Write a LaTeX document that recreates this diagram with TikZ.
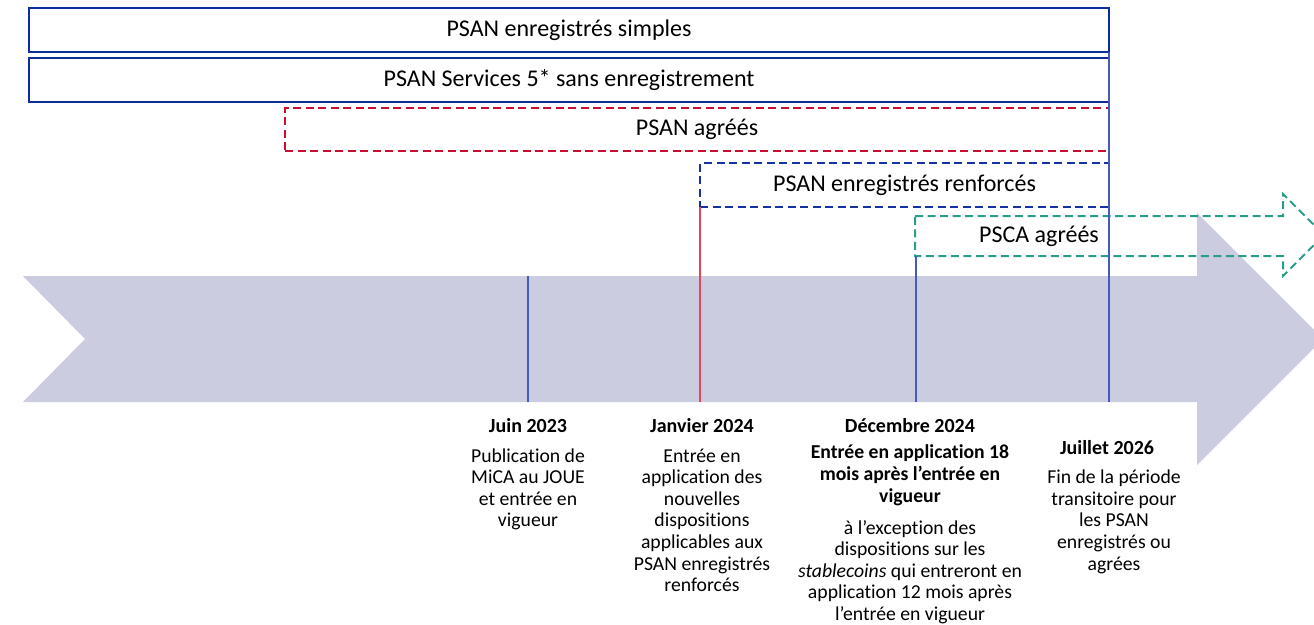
\documentclass[tikz,border=0pt]{standalone}
\usepackage{fontspec}
\setmainfont{Carlito}[Ligatures=NoCommon]
\definecolor{boxblue}{HTML}{0B2D9E}
\definecolor{dred}{HTML}{C8102E}
\definecolor{dblue}{HTML}{1532A0}
\definecolor{tealc}{HTML}{2A9D8A}
\definecolor{arrowgray}{HTML}{CBCCDF}
\definecolor{tickblue}{HTML}{4659BF}
\definecolor{tickred}{HTML}{E0475A}
\begin{document}
\begin{tikzpicture}[x=1pt,y=-1pt,
  bar/.style={draw=boxblue, line width=2pt, inner sep=0pt, minimum height=44pt,
    font=\fontsize{24}{28}\selectfont},
  redbar/.style={draw=dred, line width=2pt, dash pattern=on 8pt off 4.5pt, inner sep=0pt,
    minimum height=43pt, font=\fontsize{24}{28}\selectfont},
  bluebar/.style={draw=dblue, line width=2pt, dash pattern=on 8pt off 4.5pt, inner sep=0pt,
    minimum height=44pt, font=\fontsize{24}{28}\selectfont},
  lbl/.style={inner sep=0pt, font=\fontsize{24}{28}\selectfont},
  datet/.style={inner sep=0pt, anchor=base, align=center, font=\bfseries\fontsize{20}{21.7}\selectfont},
  boldt/.style={inner sep=0pt, anchor=base, align=center, font=\bfseries\fontsize{19.7}{21.6}\selectfont},
  desc/.style={inner sep=0pt, anchor=base, align=center, font=\fontsize{19.7}{21.6}\selectfont},
  tickb/.style={draw=tickblue, line width=1.2pt},
  tickr/.style={draw=tickred, line width=1.2pt}
]
\useasboundingbox (0,0) rectangle (1314,624);

% big timeline arrow
\fill[arrowgray] (23,276) -- (1197,276) -- (1197,213) -- (1323,339) -- (1197,465)
  -- (1197,402) -- (23,402) -- (85,339) -- cycle;

% bars
\node[bar, minimum width=1080pt] (b1) at (569,30) {PSAN enregistrés simples};
\node[bar, minimum width=1080pt] (b2) at (569,80) {PSAN Services 5* sans enregistrement};
\node[redbar, minimum width=824pt] (b3) at (697,129.5) {PSAN agréés};
\node[bluebar, minimum width=409pt] (b4) at (904.5,185) {PSAN enregistrés renforcés};

% PSCA dashed arrow
\draw[tealc, line width=2pt, dash pattern=on 8pt off 4.5pt]
  (915,216) -- (1283,216) -- (1283,194) -- (1324,235) -- (1283,276) -- (1283,256)
  -- (915,256) -- cycle;
\node[lbl] (b5) at (1039,236) {PSCA agréés};

% ticks
\coordinate (t1a) at (528,276); \coordinate (t1b) at (528,402);
\coordinate (t2a) at (700,207); \coordinate (t2b) at (700,402);
\coordinate (t3a) at (916,256); \coordinate (t3b) at (916,402);
\coordinate (t4a) at (1109,52); \coordinate (t4b) at (1109,402);
\draw[tickb] (t1a) -- (t1b);
\draw[tickr] (t2a) -- (t2b);
\draw[tickb] (t3a) -- (t3b);
\draw[tickb] (t4a) -- (t4b);

% texts (multi-line nodes: base = last line's baseline)
\node[datet] (d1) at (528,432) {Juin 2023};
\node[desc] (x1) at (528,526.8) {Publication de\\MiCA au JOUE\\et entrée en\\vigueur};

\node[datet] (d2) at (702,432) {Janvier 2024};
\node[desc] (x2) at (702,591.6) {Entrée en\\application des\\nouvelles\\dispositions\\applicables aux\\PSAN enregistrés\\renforcés};

\node[datet] (d3) at (910,432) {Décembre 2024};
\node[boldt] (x3) at (910,502) {Entrée en application 18\\mois après l’entrée en\\vigueur};
\node[desc] (x3b) at (910,620.5) {à l’exception des\\dispositions sur les\\\textit{stablecoins} qui entreront en\\application 12 mois après\\l’entrée en vigueur};

\node[datet] (d4) at (1107,454) {Juillet 2026};
\node[desc] (x4) at (1114,570) {Fin de la période\\transitoire pour\\les PSAN\\enregistrés ou\\agrées};
\end{tikzpicture}
\end{document}
